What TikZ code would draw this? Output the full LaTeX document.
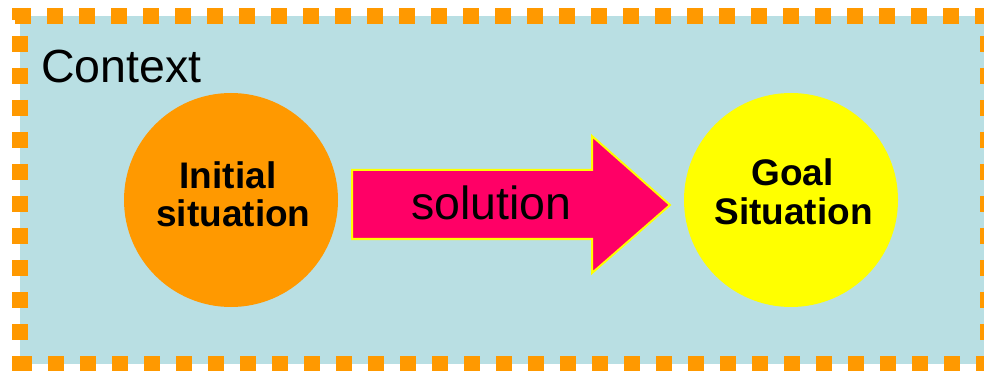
\documentclass[tikz,border=0pt]{standalone}
\usepackage{fontspec}
\setmainfont{Liberation Sans}
\definecolor{ctxblue}{HTML}{B9DFE3}
\definecolor{ctxorange}{HTML}{FF9900}
\definecolor{arrowpink}{HTML}{FF0066}
\definecolor{goalyellow}{HTML}{FFFF00}
\tikzset{
  borderline/.style={draw=ctxorange, line width=16pt, dash pattern=on 16pt off 16pt, line cap=butt},
  bigtext/.style={font=\fontsize{46.5}{46}\selectfont, inner sep=0pt, anchor=base},
  circtext/.style={font=\fontsize{37}{38}\selectfont\bfseries, inner sep=0pt, anchor=base},
}
\begin{document}
\begin{tikzpicture}[x=1pt,y=-1pt]
\useasboundingbox (0,0) rectangle (984,371);
% background
\fill[ctxblue] (20,16) rectangle (987,364);
% dashed border
\draw[borderline, dash phase=29pt] (12,16) -- (995,16);
\draw[borderline, dash phase=28pt] (12,363.5) -- (995,363.5);
\draw[borderline, dash phase=4pt] (20,8) -- (20,372);
\draw[borderline, dash phase=4pt] (987.5,8) -- (987.5,372);
% label
\node[bigtext, anchor=base west] (context) at (41,83) {Context};
% circles
\fill[ctxorange] (231,200) circle (107);
\fill[goalyellow] (791,200) circle (107);
\node[circtext] (init1) at (228,189) {Initial};
\node[circtext] (init2) at (233.5,227) {situation};
\node[circtext] (goal1) at (792.5,186) {Goal};
\node[circtext] (goal2) at (793.5,225) {Situation};
% arrow
\draw[fill=arrowpink, draw=goalyellow, line width=2pt, line join=miter]
  (352,170) -- (592,170) -- (592,136) -- (670,205) -- (592,273) -- (592,239) -- (352,239) -- cycle;
\node[bigtext] (sol) at (491.5,220) {solution};
\end{tikzpicture}
\end{document}
